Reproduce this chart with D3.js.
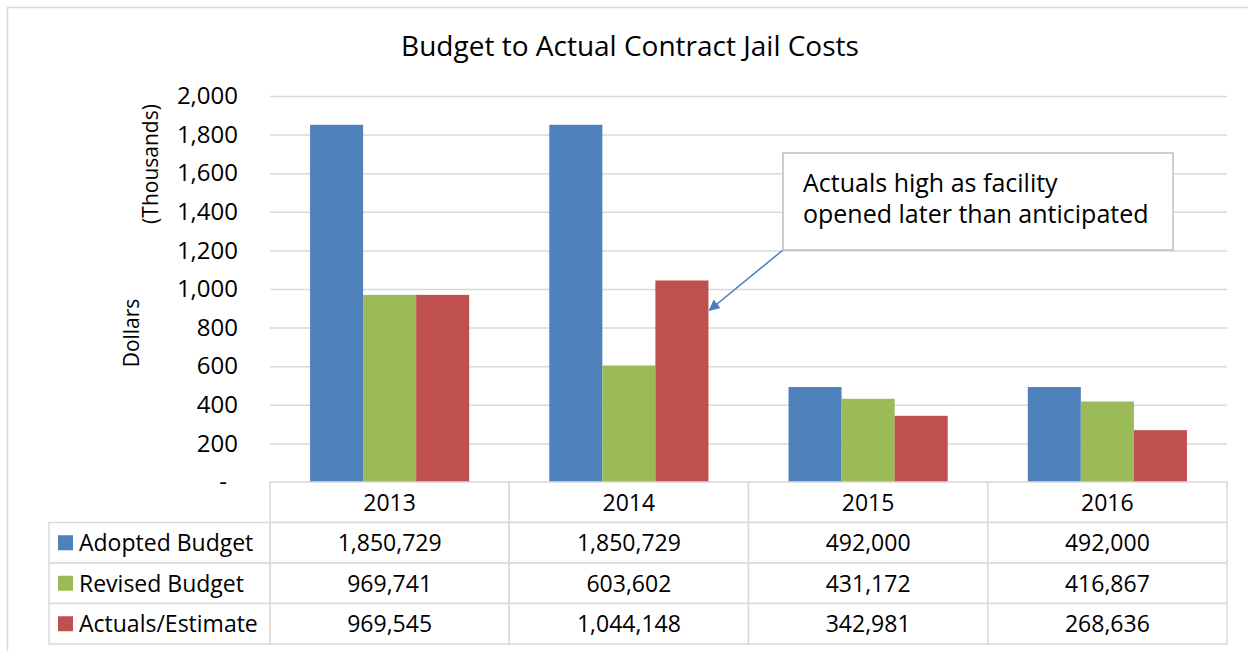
<!DOCTYPE html>
<html>
  <head>
    <script src="https://cdnjs.cloudflare.com/ajax/libs/d3/7.8.5/d3.min.js" charset="utf-8"></script>
    <style type="text/css">
      body {
        margin: 0;
        background: #fff;
        font-family: "Open Sans", sans-serif;
      }
      .grid line { stroke: #d9d9d9; stroke-width: 1.5; }
      .grid path { display: none; }
      .ytick text { font-size: 24px; fill: #000; }
      .ytick path, .ytick line { display: none; }
      .cell { fill: #fff; stroke: #d9d9d9; stroke-width: 1.5; }
      .tbl { font-size: 23px; fill: #000; }
    </style>
  </head>
  <body>
    <script type="text/javascript">
      // data (dollars)
      var years = ["2013", "2014", "2015", "2016"];
      var seriesNames = ["Adopted Budget", "Revised Budget", "Actuals/Estimate"];
      var adopted = [1850729, 1850729, 492000, 492000];
      var revised = [969741, 603602, 431172, 416867];
      var actuals = [969545, 1044148, 342981, 268636];
      var yTicks = [0, 200, 400, 600, 800, 1000, 1200, 1400, 1600, 1800, 2000];
      var colors = ["#4f81bd", "#9bbb59", "#c0504d"];

      var values = [adopted, revised, actuals];

      var w = 1248, h = 651,
          margin = { top: 96, left: 270, right: 21, plotBottom: 482 },
          rowH = 40.5;

      var svg = d3.select("body").append("svg")
          .attr("width", w)
          .attr("height", h);

      // outer chart border
      svg.append("rect")
         .attr("x", 7.5).attr("y", 7.5)
         .attr("width", w + 20).attr("height", h + 20)
         .attr("fill", "none")
         .attr("stroke", "#d9d9d9")
         .attr("stroke-width", 1.5);

      var x0 = d3.scaleBand()
          .domain(years)
          .range([margin.left, w - margin.right]);

      var x1 = d3.scaleBand()
          .domain(seriesNames)
          .range([0, x0.bandwidth()])
          .paddingOuter(0.755);

      var y = d3.scaleLinear()
          .domain([0, 2000000])
          .range([margin.plotBottom, margin.top]);

      // gridlines
      svg.append("g")
         .attr("class", "grid")
         .attr("transform", "translate(" + [margin.left, 0] + ")")
         .call(d3.axisLeft(y).tickValues(yTicks.slice(1).map(function(d) { return d * 1000; }))
               .tickSize(-(w - margin.right - margin.left)).tickFormat(""));

      // y tick labels
      svg.append("g")
         .attr("class", "ytick")
         .attr("transform", "translate(" + [margin.left - 32, 0] + ")")
         .call(d3.axisLeft(y).tickValues(yTicks.map(function(d) { return d * 1000; }))
               .tickSize(0).tickPadding(0)
               .tickFormat(function(d) { return d === 0 ? "-" : d3.format(",")(d / 1000); }))
         .selectAll("text")
         .attr("font-family", "'Open Sans', sans-serif")
         .attr("text-anchor", function(d) { return d === 0 ? "middle" : "end"; })
         .attr("dx", function(d) { return d === 0 ? -15 : 0; });

      // bars
      var groups = svg.append("g").selectAll("g")
          .data(years)
          .join("g")
          .attr("transform", function(d) { return "translate(" + x0(d) + ",0)"; });

      groups.selectAll("rect")
          .data(function(d, i) { return seriesNames.map(function(s, j) { return { s: s, j: j, v: values[j][i] }; }); })
          .join("rect")
          .attr("x", function(d) { return x1(d.s); })
          .attr("y", function(d) { return y(d.v); })
          .attr("width", x1.bandwidth())
          .attr("height", function(d) { return y(0) - y(d.v); })
          .attr("fill", function(d) { return colors[d.j]; });

      // title
      svg.append("text")
         .attr("x", 630).attr("y", 56)
         .attr("text-anchor", "middle")
         .attr("font-size", 28)
         .text("Budget to Actual Contract Jail Costs");

      // axis titles
      svg.append("text")
         .attr("transform", "translate(139,333) rotate(-90)")
         .attr("text-anchor", "middle")
         .attr("font-size", 21)
         .text("Dollars");
      svg.append("text")
         .attr("transform", "translate(158,164) rotate(-90)")
         .attr("text-anchor", "middle")
         .attr("font-size", 21)
         .text("(Thousands)");

      // data table
      var table = svg.append("g");
      var top0 = margin.plotBottom;

      // header row
      table.selectAll("rect.hdr")
          .data(years)
          .join("rect")
          .attr("class", "cell hdr")
          .attr("x", function(d) { return x0(d); })
          .attr("y", top0)
          .attr("width", x0.bandwidth())
          .attr("height", rowH);
      table.selectAll("text.hdr")
          .data(years)
          .join("text")
          .attr("class", "tbl hdr")
          .attr("x", function(d) { return x0(d) + x0.bandwidth() / 2; })
          .attr("y", top0 + rowH / 2)
          .attr("dy", "0.36em")
          .attr("text-anchor", "middle")
          .text(function(d) { return d; });

      seriesNames.forEach(function(s, j) {
        var ry = top0 + rowH * (j + 1);
        table.append("rect")
             .attr("class", "cell")
             .attr("x", 49).attr("y", ry)
             .attr("width", margin.left - 49).attr("height", rowH);
        table.append("rect")
             .attr("x", 58).attr("y", ry + rowH / 2 - 7.5)
             .attr("width", 15).attr("height", 15)
             .attr("fill", colors[j]);
        table.append("text")
             .attr("class", "tbl")
             .attr("x", 79).attr("y", ry + rowH / 2)
             .attr("dy", "0.36em")
             .text(s);
        years.forEach(function(yr, i) {
          table.append("rect")
               .attr("class", "cell")
               .attr("x", x0(yr)).attr("y", ry)
               .attr("width", x0.bandwidth()).attr("height", rowH);
          table.append("text")
               .attr("class", "tbl")
               .attr("x", x0(yr) + x0.bandwidth() / 2)
               .attr("y", ry + rowH / 2)
               .attr("dy", "0.36em")
               .attr("text-anchor", "middle")
               .text(d3.format(",")(values[j][i]));
        });
      });

      // callout
      var box = { x: 783, y: 153, w: 390, h: 97 };
      var tipX = x0("2014") + x1("Actuals/Estimate") + x1.bandwidth() + 1,
          tipY = y(890000);

      svg.append("defs").append("marker")
         .attr("id", "arrow")
         .attr("viewBox", "0 0 10 10")
         .attr("refX", 9).attr("refY", 5)
         .attr("markerWidth", 7.5).attr("markerHeight", 7.5)
         .attr("orient", "auto")
         .append("path")
         .attr("d", "M0,0L10,5L0,10z")
         .attr("fill", "#4a7ebb");

      svg.append("line")
         .attr("x1", box.x).attr("y1", box.y + box.h)
         .attr("x2", tipX).attr("y2", tipY)
         .attr("stroke", "#4a7ebb")
         .attr("stroke-width", 1.5)
         .attr("marker-end", "url(#arrow)");

      svg.append("rect")
         .attr("x", box.x).attr("y", box.y)
         .attr("width", box.w).attr("height", box.h)
         .attr("fill", "#fff")
         .attr("stroke", "#bfbfbf")
         .attr("stroke-width", 1.5);

      var note = svg.append("text")
         .attr("font-size", 25);
      note.append("tspan").attr("x", 803).attr("y", 192).text("Actuals high as facility");
      note.append("tspan").attr("x", 803).attr("y", 223).text("opened later than anticipated");
    </script>
  </body>
</html>
